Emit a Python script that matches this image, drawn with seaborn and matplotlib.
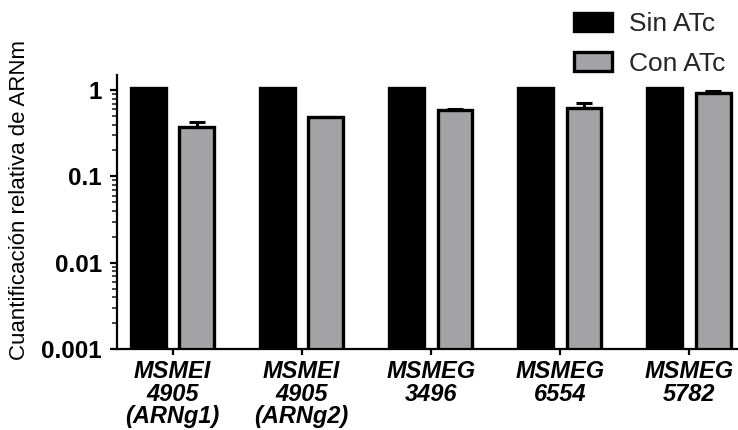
import matplotlib
matplotlib.use("Agg")
import matplotlib.pyplot as plt
import matplotlib.ticker as mticker
import seaborn as sns
import pandas as pd
import numpy as np

genes = ["MSMEI\n4905\n(ARNg1)", "MSMEI\n4905\n(ARNg2)", "MSMEG\n3496", "MSMEG\n6554", "MSMEG\n5782"]
conditions = ["Sin ATc", "Con ATc"]
sin_atc = [1.05, 1.05, 1.05, 1.05, 1.05]
con_atc = [0.37, 0.49, 0.59, 0.62, 0.94]
con_err = [0.06, 0.0, 0.02, 0.09, 0.04]
ytick_vals = [0.001, 0.01, 0.1, 1]
ytick_labels = ["0.001", "0.01", "0.1", "1"]

df = pd.DataFrame({
    "gene": genes * 2,
    "cond": [conditions[0]] * len(genes) + [conditions[1]] * len(genes),
    "val": sin_atc + con_atc,
})

sns.set_theme(style="white")
plt.rcParams["font.family"] = ["Liberation Sans", "DejaVu Sans"]

fig = plt.figure(figsize=(7.38, 4.30), dpi=100)
ax = fig.add_axes([117 / 738, 1 - 349 / 430, 1 - 117 / 738, (349 - 75) / 430])

sns.barplot(data=df, x="gene", y="val", hue="cond", order=genes, hue_order=conditions,
            palette=["black", "#a2a2a6"], width=0.75, gap=0.28, edgecolor="black",
            linewidth=2.4, errorbar=None, log_scale=True, ax=ax)

# error bars on gray bars (upper only)
gray = ax.containers[1]
xs = [p.get_x() + p.get_width() / 2 for p in gray.patches]
ax.errorbar(xs, con_atc, yerr=[np.zeros(len(con_err)), con_err], fmt="none",
            ecolor="black", elinewidth=2.2, capsize=5.5, capthick=2.2, zorder=1)

ax.set_yscale("log")
ax.set_ylim(0.001, 1.5)
ax.set_xlim(-0.43, 4.38)
ax.yaxis.set_major_locator(mticker.FixedLocator(ytick_vals))
ax.yaxis.set_major_formatter(mticker.FixedFormatter(ytick_labels))
ax.yaxis.set_minor_locator(mticker.LogLocator(base=10, subs=np.arange(2, 10)))
ax.yaxis.set_minor_formatter(mticker.NullFormatter())

for s in ["top", "right"]:
    ax.spines[s].set_visible(False)
for s in ["left", "bottom"]:
    ax.spines[s].set_linewidth(1.6)
    ax.spines[s].set_color("black")

ax.tick_params(axis="y", which="major", left=True, length=5, width=1.6, pad=6,
               labelsize=17.5, colors="black")
ax.tick_params(axis="y", which="minor", left=True, length=3.5, width=1.2)
ax.tick_params(axis="x", bottom=True, length=4, width=1.6, pad=4, labelsize=17, colors="black")
for lab in ax.get_yticklabels():
    lab.set_fontweight("bold")
for lab in ax.get_xticklabels():
    lab.set_fontweight("bold")
    lab.set_fontstyle("italic")
    lab.set_linespacing(0.97)

ax.set_xlabel("")
ax.set_ylabel("Cuantificación relativa de ARNm", fontsize=16, color="black")
ax.yaxis.set_label_coords(-0.14, 0.545)

sns.move_legend(ax, "upper left", bbox_to_anchor=(574 / 738, 1 - 12 / 430),
                bbox_transform=fig.transFigure, frameon=False, title=None,
                fontsize=19, handlelength=1.45, handleheight=0.7, handletextpad=0.65,
                labelspacing=0.6, borderpad=0, borderaxespad=0)

fig.savefig("out.png", dpi=100)
